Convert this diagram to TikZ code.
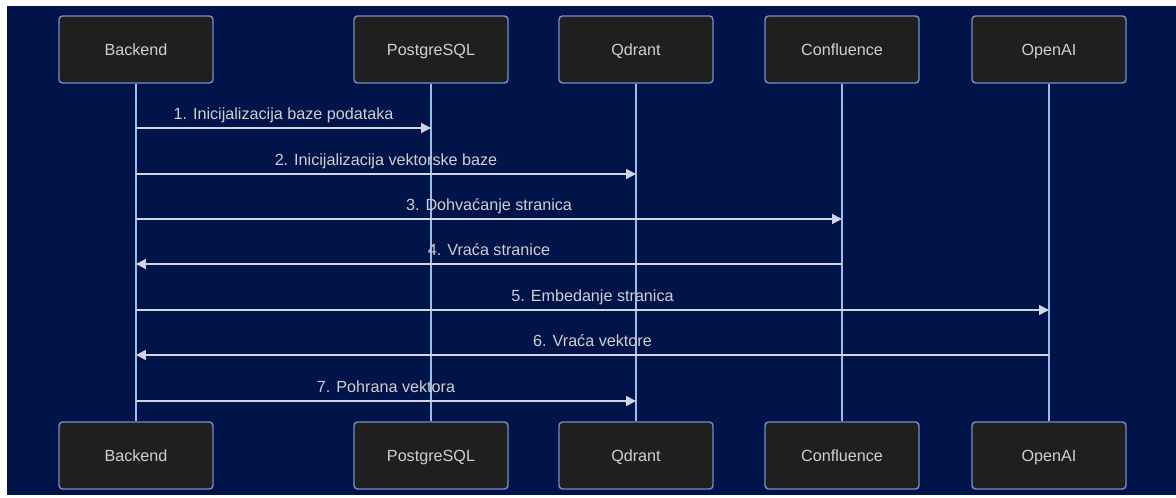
\documentclass[tikz,border=0pt]{standalone}
\usepackage{fontspec}
\setmainfont{Liberation Sans}
\usetikzlibrary{arrows.meta,positioning}
\definecolor{navy}{HTML}{001449}
\definecolor{boxfill}{HTML}{1F1F1F}
\definecolor{boxline}{HTML}{7391C0}
\definecolor{lifeline}{HTML}{98BEEB}
\definecolor{msgline}{HTML}{D2D4E2}
\definecolor{txt}{HTML}{D0D0D0}

\begin{document}
\begin{tikzpicture}
[x=0.02cm,y=-0.02cm,>={Triangle[length=5.6pt,width=5.6pt]},
actor/.style = {draw=boxline, fill=boxfill, line width=0.8pt, rounded corners=2pt, minimum width=3.08cm, minimum height=1.34cm, text height=1.5ex, text depth=0.3ex, text=txt, font=\fontsize{9.2}{11}\selectfont},
life/.style = {draw=lifeline, line width=1pt},
msg/.style = {draw=msgline, fill=msgline, line width=0.9pt, ->},
lbl/.style = {text=txt, font=\fontsize{9.2}{11}\selectfont, anchor=base, inner sep=0pt, yshift=4.6pt},]
\useasboundingbox (0,0) rectangle (1176,497);
\fill[white] (0,0) rectangle (1176,497);
\fill[navy] (7,6) rectangle (1176,495);
% participants
\node (bT) at (136,49.5)[actor] {Backend};
\node (pT) at (431,49.5)[actor] {PostgreSQL};
\node (qT) at (636,49.5)[actor] {Qdrant};
\node (cT) at (842,49.5)[actor] {Confluence};
\node (oT) at (1049,49.5)[actor] {OpenAI};
\node (bB) at (136,455.5)[actor] {Backend};
\node (pB) at (431,455.5)[actor] {PostgreSQL};
\node (qB) at (636,455.5)[actor] {Qdrant};
\node (cB) at (842,455.5)[actor] {Confluence};
\node (oB) at (1049,455.5)[actor] {OpenAI};
\foreach \p in {b,p,q,c,o}
  \draw[life] (\p T.south)--(\p B.north);
% message rows
\coordinate (y1) at (0,128);
\coordinate (y2) at (0,174);
\coordinate (y3) at (0,219);
\coordinate (y4) at (0,264);
\coordinate (y5) at (0,310);
\coordinate (y6) at (0,355);
\coordinate (y7) at (0,401);
\draw[msg] (bT |- y1)--(pT |- y1) node[midway,lbl] {1. Inicijalizacija baze podataka};
\draw[msg] (bT |- y2)--(qT |- y2) node[midway,lbl] {2. Inicijalizacija vektorske baze};
\draw[msg] (bT |- y3)--(cT |- y3) node[midway,lbl] {3. Dohvaćanje stranica};
\draw[msg] (cT |- y4)--(bT |- y4) node[midway,lbl] {4. Vraća stranice};
\draw[msg] (bT |- y5)--(oT |- y5) node[midway,lbl] {5. Embedanje stranica};
\draw[msg] (oT |- y6)--(bT |- y6) node[midway,lbl] {6. Vraća vektore};
\draw[msg] (bT |- y7)--(qT |- y7) node[midway,lbl] {7. Pohrana vektora};
\end{tikzpicture}
\end{document}
